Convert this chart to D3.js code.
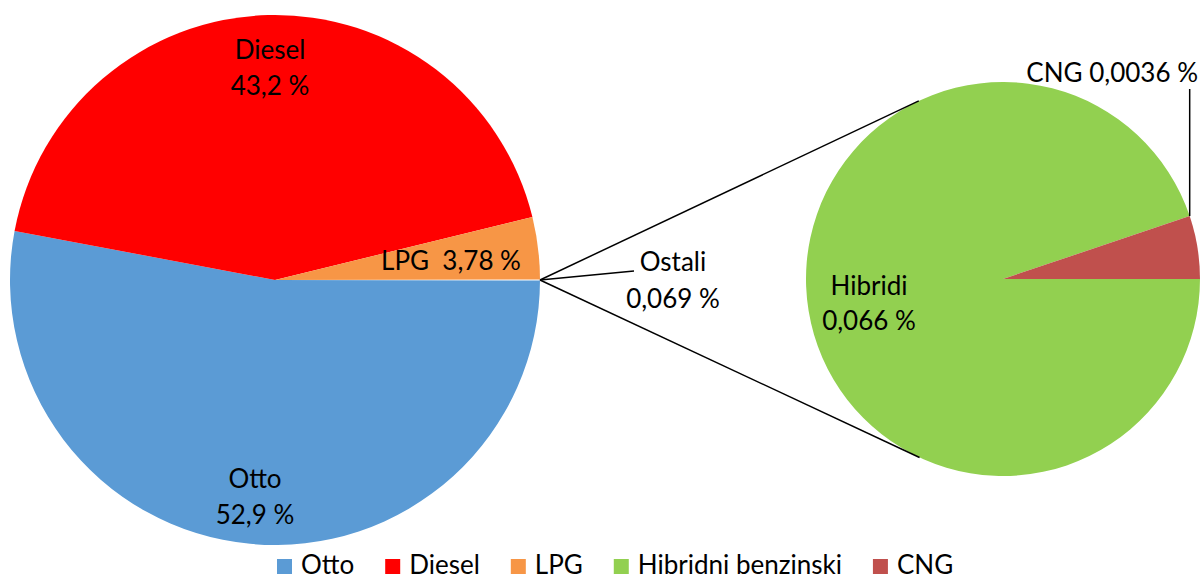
<!DOCTYPE html>
<meta charset="utf-8">
<style>
	body { margin: 0; background: #fff; }
	svg text { font-family: Lato, "Noto Sans", sans-serif; fill: #000; }
</style>
<svg width="1204" height="576"></svg>
<script src="https://d3js.org/d3.v7.min.js"></script>
<script>
	// glavni krug
	var mainNames = ['Otto', 'Diesel', 'LPG', 'Ostali']
	var mainValues = [52.9, 43.2, 3.78, 0.069]
	var mainLabels = ['52,9 %', '43,2 %', '3,78 %', '0,069 %']
	var mainColors = ['#5B9BD5', '#FF0000', '#F79646', '#FFFFFF']

	// drugi krug (Ostali)
	var subNames = ['Hibridni benzinski', 'CNG']
	var subShort = ['Hibridi', 'CNG']
	var subValues = [0.066, 0.0036]
	var subLabels = ['0,066 %', '0,0036 %']
	var subColors = ['#92D050', '#C0504D']

	var legendNames = ['Otto', 'Diesel', 'LPG', 'Hibridni benzinski', 'CNG']
	var legendColors = ['#5B9BD5', '#FF0000', '#F79646', '#92D050', '#C0504D']

	var svg = d3.select('svg')
	var fs = 26

	var c1 = { x: 275, y: 280, r: 265 },
		c2 = { x: 1003, y: 279, r: 197 }

	var half = mainValues[3] / d3.sum(mainValues) * Math.PI
	var pie1 = d3.pie().sort(null)
		.startAngle(Math.PI / 2 + half)
		.endAngle(Math.PI / 2 + half + 2 * Math.PI)
	var arcs1 = pie1(mainValues)
	var arc1 = d3.arc().innerRadius(0).outerRadius(c1.r)

	var g1 = svg.append('g').attr('transform', 'translate(' + c1.x + ',' + c1.y + ')')
	g1.selectAll('path')
		.data(arcs1.slice(0, 3))
		.enter()
		.append('path')
		.attr('d', arc1)
		.attr('fill', (d, i) => mainColors[i])

	var pie2 = d3.pie().sort(null)
		.startAngle(Math.PI / 2)
		.endAngle(Math.PI / 2 + 2 * Math.PI)
	var arcs2 = pie2(subValues)
	var arc2 = d3.arc().innerRadius(0).outerRadius(c2.r)

	var g2 = svg.append('g').attr('transform', 'translate(' + c2.x + ',' + c2.y + ')')
	g2.selectAll('path')
		.data(arcs2)
		.enter()
		.append('path')
		.attr('d', arc2)
		.attr('fill', (d, i) => subColors[i])

	// spojnice - tangente od vrha "Ostali" do drugog kruga
	var px = c1.x + c1.r, py = c1.y
	var dist = Math.hypot(c2.x - px, c2.y - py)
	var th = Math.acos(c2.r / dist)
	var base = Math.atan2(py - c2.y, px - c2.x)
	;[base + th, base - th].forEach(function (a) {
		svg.append('line')
			.attr('x1', px).attr('y1', py)
			.attr('x2', c2.x + c2.r * Math.cos(a))
			.attr('y2', c2.y + c2.r * Math.sin(a))
			.attr('stroke', '#000')
			.attr('stroke-width', 1.5)
	})

	// oznake
	function twoLine(x, y, a, b, gap) {
		var t = svg.append('text').attr('text-anchor', 'middle').style('font-size', fs + 'px')
		t.append('tspan').attr('x', x).attr('y', y).text(a)
		t.append('tspan').attr('x', x).attr('y', y + gap).text(b)
	}
	twoLine(270, 59, mainNames[1], mainLabels[1], 36)
	twoLine(255, 488, mainNames[0], mainLabels[0], 36)
	svg.append('text').attr('x', 451).attr('y', 270)
		.attr('text-anchor', 'middle').style('font-size', fs + 'px')
		.text(mainNames[2] + '\u00a0\u00a0' + mainLabels[2])

	// Ostali
	twoLine(673, 271, mainNames[3], mainLabels[3], 37)
	svg.append('line')
		.attr('x1', px).attr('y1', py)
		.attr('x2', 634).attr('y2', 271)
		.attr('stroke', '#000').attr('stroke-width', 1.5)

	twoLine(869, 295, subShort[0], subLabels[0], 35)
	var cngA = arcs2[1].startAngle - Math.PI / 2
	var cx = c2.x + c2.r * Math.cos(cngA), cy = c2.y + c2.r * Math.sin(cngA)
	svg.append('line')
		.attr('x1', cx).attr('y1', cy)
		.attr('x2', cx).attr('y2', 89)
		.attr('stroke', '#000').attr('stroke-width', 1.5)
	svg.append('text').attr('x', 1198).attr('y', 82)
		.attr('text-anchor', 'end').style('font-size', fs + 'px')
		.text(subShort[1] + ' ' + subLabels[1])

	// legenda
	var lx = 277
	var leg = svg.append('g')
	legendNames.forEach(function (n, i) {
		leg.append('rect')
			.attr('x', lx).attr('y', 559)
			.attr('width', 15).attr('height', 15)
			.attr('fill', legendColors[i])
		var t = leg.append('text')
			.attr('x', lx + 24).attr('y', 574)
			.style('font-size', fs + 'px')
			.text(n)
		lx += 24 + t.node().getComputedTextLength() + 31
	})
</script>
